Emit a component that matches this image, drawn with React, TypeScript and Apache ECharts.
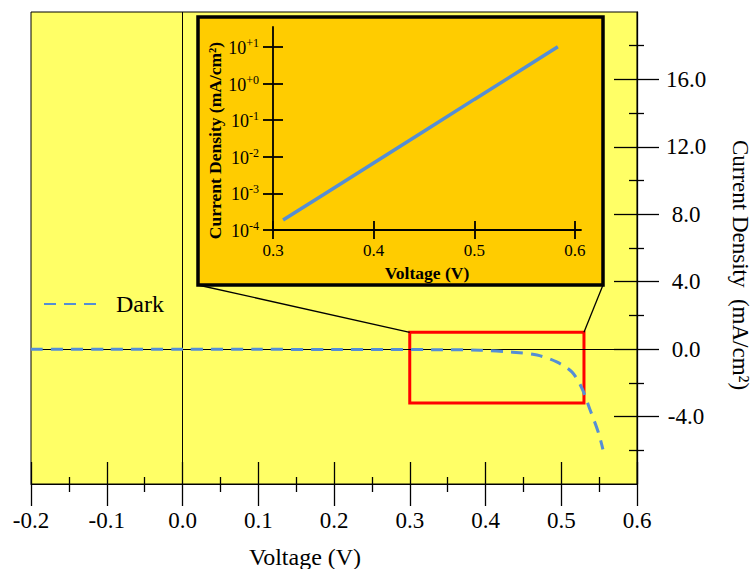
import React, { useEffect, useRef } from "react";
import * as echarts from "echarts";

// Main chart: dark J-V curve
const darkVoltage = [-0.2, -0.1, 0.0, 0.1, 0.2, 0.265, 0.33, 0.393, 0.436, 0.468, 0.494, 0.514, 0.527, 0.538, 0.549, 0.555];
const darkCurrent = [-0.01, -0.01, -0.01, -0.01, -0.02, -0.02, -0.03, -0.06, -0.18, -0.35, -0.76, -1.35, -2.29, -3.59, -4.94, -5.94];

// Inset: log current density vs voltage
const insetVoltage = [0.31, 0.35, 0.4, 0.45, 0.5, 0.55, 0.583];
const insetCurrent = [1.87e-4, 9.2e-4, 6.8e-3, 5.0e-2, 0.37, 2.7, 10.2];

const xTickValues = [-0.2, -0.1, 0.0, 0.1, 0.2, 0.3, 0.4, 0.5, 0.6];
const yTickValues = [-4, 0, 4, 8, 12, 16];
const insetXTicks = [0.3, 0.4, 0.5, 0.6];
const insetYExponents = [-4, -3, -2, -1, 0, 1];

// Zoom box in data coordinates
const zoomBoxV = [0.3, 0.53];
const zoomBoxJ = [1, -3.2];

const SERIF = "'Liberation Serif', serif";

export default function App() {
  const ref = useRef<HTMLDivElement>(null);

  useEffect(() => {
    if (!ref.current) return;
    const chart = echarts.init(ref.current, null, { renderer: "svg" });

    const insetBox = { x: 198, y: 17, w: 405, h: 268 };

    const option: any = {
      animation: false,
      backgroundColor: "#ffffff",
      grid: [
        {
          left: 31, right: 116, top: 12, bottom: 85, outerBoundsMode: "none", containLabel: false,
          show: true, backgroundColor: "#FFFF66", borderColor: "#000", borderWidth: 1,
        },
        { left: 273, right: 172, top: 27, bottom: 339, show: false, outerBoundsMode: "none", containLabel: false },
      ],
      legend: {
        show: true,
        data: ["Dark"],
        left: 43,
        top: 292,
        padding: 0,
        itemWidth: 53,
        itemHeight: 14,
        itemStyle: { color: "rgba(0,0,0,0)", borderColor: "rgba(0,0,0,0)", borderWidth: 0 },
        textStyle: { fontFamily: SERIF, fontSize: 24, color: "#000", padding: [0, 0, 0, 14] },
      },
      xAxis: [
        {
          type: "value", gridIndex: 0, position: "bottom", min: -0.2, max: 0.6, interval: 0.1,
          axisLine: { show: true, onZero: false, lineStyle: { color: "#000", width: 1 } },
          axisTick: { show: true, inside: false, length: 22, lineStyle: { color: "#000", width: 1.3 }, customValues: xTickValues },
          minorTick: { show: true, splitNumber: 2, length: 8, lineStyle: { color: "#000", width: 1.3 } },
          axisLabel: {
            show: true, customValues: xTickValues, margin: 25, fontFamily: SERIF, fontSize: 23, color: "#000",
            formatter: (v: number) => (Math.abs(v) < 1e-9 ? 0 : v).toFixed(1),
          },
          splitLine: { show: false },
          name: "Voltage (V)", nameLocation: "middle", nameGap: 61,
          nameTextStyle: { fontFamily: SERIF, fontSize: 24, color: "#000", padding: [0, 58, 0, 0] },
        },
        {
          type: "value", gridIndex: 0, position: "bottom", min: -0.2, max: 0.6, interval: 0.1,
          axisLine: { show: false, onZero: false },
          axisTick: { show: true, inside: true, length: 22, lineStyle: { color: "#000", width: 1.3 }, customValues: xTickValues },
          minorTick: { show: true, splitNumber: 2, length: 7, lineStyle: { color: "#000", width: 1.3 } },
          axisLabel: { show: false },
          splitLine: { show: false },
        },
        {
          type: "value", gridIndex: 1, position: "bottom", min: 0.3, max: 0.606, z: 5,
          axisLine: { show: true, onZero: false, lineStyle: { color: "#000", width: 1.8 } },
          axisTick: { show: true, inside: false, length: 9, lineStyle: { color: "#000", width: 1.8 }, customValues: insetXTicks },
          axisLabel: {
            show: true, customValues: insetXTicks, margin: 12, fontFamily: SERIF, fontSize: 17, color: "#000",
            formatter: (v: number) => v.toFixed(1),
          },
          splitLine: { show: false },
          name: "Voltage (V)", nameLocation: "middle", nameGap: 34,
          nameTextStyle: { fontFamily: SERIF, fontSize: 17.5, fontWeight: "bold", color: "#000" },
        },
        {
          type: "value", gridIndex: 1, position: "bottom", min: 0.3, max: 0.606, z: 5,
          axisLine: { show: false, onZero: false },
          axisTick: { show: true, inside: true, length: 9, lineStyle: { color: "#000", width: 1.8 }, customValues: insetXTicks },
          axisLabel: { show: false },
          splitLine: { show: false },
        },
      ],
      yAxis: [
        {
          type: "value", gridIndex: 0, position: "right", min: -8, max: 20, interval: 4,
          axisLine: { show: true, onZero: false, lineStyle: { color: "#000", width: 1.3 } },
          axisTick: { show: true, inside: false, length: 22, lineStyle: { color: "#000", width: 1.3 }, customValues: yTickValues },
          minorTick: { show: true, splitNumber: 2, length: 7, lineStyle: { color: "#000", width: 1.3 } },
          axisLabel: {
            show: true, customValues: yTickValues, margin: 49, align: "center", fontFamily: SERIF, fontSize: 23, color: "#000",
            formatter: (v: number) => v.toFixed(1),
          },
          splitLine: { show: false },
          name: "Current Density  (mA/cm²)", nameLocation: "middle", nameGap: 92, nameRotate: -90,
          nameTextStyle: { fontFamily: SERIF, fontSize: 23, color: "#000", padding: [0, 0, 0, 34] },
        },
        {
          type: "value", gridIndex: 0, position: "right", min: -8, max: 20, interval: 4,
          axisLine: { show: false, onZero: false },
          axisTick: { show: true, inside: true, length: 23, lineStyle: { color: "#000", width: 1.3 }, customValues: yTickValues },
          minorTick: { show: true, splitNumber: 2, length: 8, lineStyle: { color: "#000", width: 1.3 } },
          axisLabel: { show: false },
          splitLine: { show: false },
        },
        {
          type: "value", gridIndex: 1, position: "left", min: -4, max: 1.546, z: 5,
          axisLine: { show: true, onZero: false, lineStyle: { color: "#000", width: 1.8 } },
          axisTick: { show: true, inside: false, length: 10, lineStyle: { color: "#000", width: 1.8 }, customValues: insetYExponents },
          axisLabel: {
            show: true, customValues: insetYExponents, margin: 14,
            formatter: (v: number) => {
              const e = Math.round(v);
              const s = e >= 0 ? "+" + e : String(e);
              return `{b|10}{s|${s}}`;
            },
            rich: {
              b: { fontFamily: SERIF, fontSize: 18, color: "#000", lineHeight: 20, verticalAlign: "bottom" },
              s: { fontFamily: SERIF, fontSize: 12, color: "#000", lineHeight: 20, verticalAlign: "top" },
            },
          },
          splitLine: { show: false },
          name: "Current Density (mA/cm²)", nameLocation: "middle", nameGap: 44,
          nameTextStyle: { fontFamily: SERIF, fontSize: 17.5, fontWeight: "bold", color: "#000", padding: [0, 24, 0, 0] },
        },
        {
          type: "value", gridIndex: 1, position: "left", min: -4, max: 1.546, z: 5,
          axisLine: { show: false, onZero: false },
          axisTick: { show: true, inside: true, length: 10, lineStyle: { color: "#000", width: 1.8 }, customValues: insetYExponents },
          axisLabel: { show: false },
          splitLine: { show: false },
        },
      ],
      series: [
        {
          name: "Dark",
          type: "line",
          xAxisIndex: 0,
          yAxisIndex: 0,
          data: darkVoltage.map((v, i) => [v, darkCurrent[i]]),
          smooth: 0.3,
          symbol: "none",
          z: 3,
          lineStyle: { color: "#558ED5", width: 3, type: [12, 8] },
          itemStyle: { color: "#558ED5" },
          markLine: {
            silent: true,
            symbol: ["none", "none"],
            label: { show: false },
            lineStyle: { color: "#000", width: 1, type: "solid" },
            z: 2,
            data: [{ xAxis: 0 }, { yAxis: 0 }],
          },
          markArea: {
            silent: true,
            itemStyle: { color: "rgba(0,0,0,0)", borderColor: "#FF0000", borderWidth: 3 },
            data: [[{ coord: [zoomBoxV[0], zoomBoxJ[0]] }, { coord: [zoomBoxV[1], zoomBoxJ[1]] }]],
          },
        },
        {
          name: "Inset",
          type: "line",
          xAxisIndex: 2,
          yAxisIndex: 2,
          data: insetVoltage.map((v, i) => [v, Math.log10(insetCurrent[i])]),
          symbol: "none",
          z: 6,
          lineStyle: { color: "#558ED5", width: 3.5 },
        },
      ],
    };

    chart.setOption(option);

    const tl = chart.convertToPixel({ xAxisIndex: 0, yAxisIndex: 0 }, [zoomBoxV[0], zoomBoxJ[0]]) as number[];
    const tr = chart.convertToPixel({ xAxisIndex: 0, yAxisIndex: 0 }, [zoomBoxV[1], zoomBoxJ[0]]) as number[];
    chart.setOption({
      graphic: [
        {
          type: "rect", z: 1,
          shape: { x: insetBox.x, y: insetBox.y, width: insetBox.w, height: insetBox.h },
          style: { fill: "#FFCC00", stroke: "#000", lineWidth: 3.5 },
        },
        {
          type: "line", z: 1,
          shape: { x1: insetBox.x, y1: insetBox.y + insetBox.h, x2: tl[0], y2: tl[1] },
          style: { stroke: "#000", lineWidth: 1.3 },
        },
        {
          type: "line", z: 1,
          shape: { x1: insetBox.x + insetBox.w, y1: insetBox.y + insetBox.h, x2: tr[0], y2: tr[1] },
          style: { stroke: "#000", lineWidth: 1.3 },
        },
      ],
    });

    return () => chart.dispose();
  }, []);

  return (
    <div
      ref={ref}
      style={{ position: "fixed", left: 0, top: 0, width: 753, height: 569, background: "#fff" }}
    />
  );
}
